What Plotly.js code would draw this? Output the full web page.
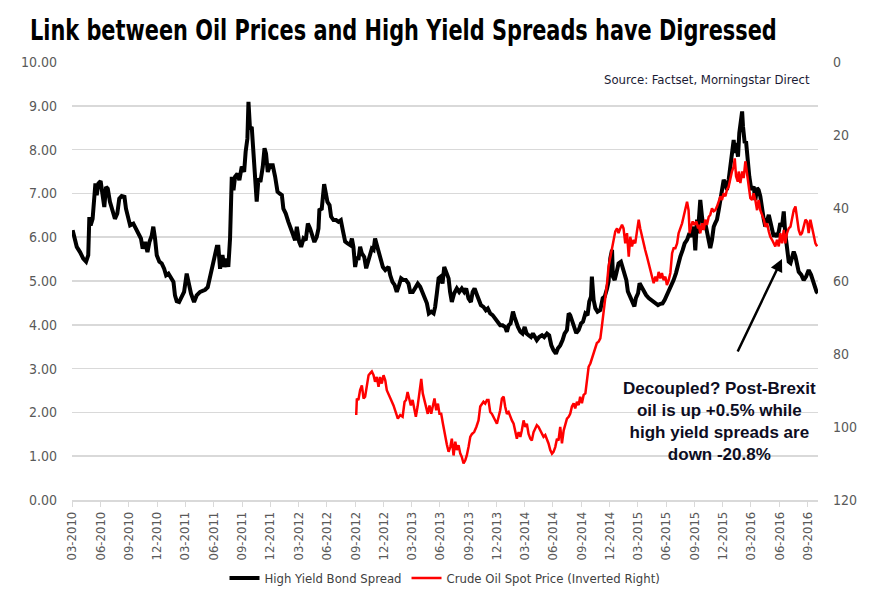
<!DOCTYPE html>
<html>
<head>
<meta charset="utf-8">
<script src="https://cdn.plot.ly/plotly-3.0.1.min.js"></script>
<style>html,body{margin:0;padding:0;background:#fff}#chart{width:882px;height:605px}</style>
</head>
<body>
<div id="chart"></div>
<script>
// Time is in weeks since 2010-03-01 (weekly data)
const hyWeek = [0.3,1.4,2.2,3.7,5.2,6.5,7.5,8.0,8.6,9.5,10.2,10.8,11.4,12.2,13.2,14.0,14.9,15.7,16.5,17.5,18.6,19.8,20.9,21.8,22.9,24.2,24.9,26.0,26.8,28.3,29.5,30.6,31.8,32.6,33.7,34.8,35.7,36.8,37.5,38.3,39.1,40.3,41.4,42.5,43.4,44.5,45.7,46.8,47.5,48.3,49.4,50.6,51.7,52.9,54.0,54.9,56.3,57.5,59.1,
61.4,62.6,63.7,64.8,65.7,66.8,67.5,68.3,69.4,70.3,71.4,72.1,72.9,73.7,74.5,75.2,76.3,77.2,78.3,79.4,80.1,80.9,81.4,82.1,82.9,83.7,84.5,85.2,86.0,86.9,88.0,88.8,89.5,90.3,91.4,92.6,93.7,94.8,95.7,96.8,97.5,98.6,99.8,100.9,101.8,102.9,103.7,104.8,105.7,106.8,107.8,108.8,109.8,110.9,111.8,112.9,113.7,114.1,115.2,116.3,
117.1,117.8,118.8,119.5,120.6,121.8,122.9,124.0,124.9,126.0,127.1,128.3,129.1,129.8,130.6,131.4,132.1,132.9,133.7,134.8,135.7,136.8,137.5,138.3,139.1,139.8,140.6,141.4,142.5,143.4,144.5,145.2,146.0,146.8,147.8,148.8,149.8,150.9,151.8,152.9,154.0,155.2,156.0,157.2,158.3,159.5,160.6,161.7,162.6,163.7,164.6,165.7,166.8,167.5,168.3,169.1,170.1,170.9,171.7,172.6,173.7,174.4,
175.2,176.3,177.5,178.6,179.8,180.9,181.8,182.9,184.0,184.8,185.7,186.8,187.5,188.6,189.8,190.9,191.8,192.9,194.0,195.2,196.4,197.5,198.6,199.8,200.6,201.4,202.3,203.4,204.1,204.9,205.7,206.8,207.8,208.8,209.7,210.6,211.7,212.6,213.4,214.4,215.5,216.8,217.8,219.1,220.1,221.1,222.1,223.2,224.1,225.2,226.3,227.2,228.3,229.1,229.8,230.6,231.4,
232.6,233.7,234.8,235.7,236.8,237.8,238.6,239.4,239.8,240.6,241.4,242.4,243.7,244.8,245.7,246.8,247.5,248.3,249.1,249.5,250.3,251.1,252.1,253.2,254.0,254.8,255.7,256.4,257.5,258.6,259.4,260.1,261.1,261.8,262.6,263.7,264.8,266.0,267.2,268.3,269.4,270.3,271.4,272.4,273.4,274.4,275.5,276.4,277.5,278.6,279.5,280.6,281.7,282.6,283.7,284.8,285.7,286.8,287.5,288.3,288.7,289.8,
290.6,291.4,292.1,292.9,293.7,294.4,295.2,296.0,296.7,297.5,298.3,299.1,299.8,300.6,301.4,302.1,302.9,303.7,304.4,305.2,305.7,306.3,307.2,307.8,308.6,309.1,309.5,310.3,310.9,311.4,311.8,312.4,313.1,313.7,314.4,315.2,316.0,316.7,317.5,318.3,319.1,319.8,320.6,321.4,322.1,322.9,323.7,324.4,325.2,326.0,326.7,327.5,328.3,329.0,329.8,330.6,331.4,332.1,332.9,333.7,334.4,335.2,336.4,337.5,338.6,339.8,340.9,341.7,342.6,343.4,344.0];
const hyVal = [6.16,5.97,5.78,5.66,5.51,5.44,5.59,6.46,6.27,6.42,7.04,7.23,6.96,7.23,7.28,6.96,6.69,7.15,7.11,6.81,6.65,6.42,6.54,6.88,6.94,6.92,6.65,6.46,6.27,6.31,6.20,6.08,5.97,5.74,5.89,5.66,5.89,6.04,6.24,5.97,5.59,5.44,5.40,5.28,5.13,5.17,5.05,4.98,4.67,4.54,4.52,4.67,4.75,5.17,4.90,4.71,4.52,4.67,4.75,
4.80,4.86,5.13,5.32,5.51,5.78,5.78,5.28,5.59,5.32,5.51,5.32,5.97,7.38,7.07,7.38,7.45,7.30,7.61,7.49,7.95,8.25,9.09,8.48,8.52,7.83,7.42,6.81,7.34,7.26,7.61,8.03,7.91,7.49,7.64,7.64,7.38,7.04,7.00,6.96,6.65,6.54,6.35,6.20,6.08,5.93,6.24,5.89,5.78,5.97,5.93,6.31,6.20,6.05,5.89,6.01,6.20,6.62,6.65,7.21,
7.00,6.81,6.73,6.47,6.39,6.39,6.35,6.39,6.16,5.90,5.86,5.82,5.97,5.78,5.32,5.55,5.48,5.78,5.63,5.55,5.29,5.48,5.59,5.74,5.71,5.97,5.82,5.67,5.51,5.32,5.25,5.29,5.32,5.13,4.98,4.91,4.75,4.91,5.06,5.02,5.02,4.94,4.75,4.75,4.83,4.94,4.87,4.75,4.64,4.49,4.26,4.30,4.26,4.41,4.72,5.06,5.10,4.94,5.32,5.17,5.06,4.75,
4.52,4.72,4.83,4.75,4.83,4.75,4.83,4.60,4.52,4.75,4.83,4.68,4.56,4.45,4.41,4.33,4.37,4.26,4.22,4.14,4.07,3.99,3.99,3.95,3.84,3.99,4.03,4.30,4.18,4.03,3.95,3.84,3.80,3.95,3.80,3.76,3.72,3.80,3.72,3.65,3.72,3.76,3.72,3.80,3.76,3.53,3.42,3.34,3.46,3.53,3.65,3.80,3.88,4.26,4.22,4.11,3.95,
3.81,3.88,4.03,4.07,4.26,4.22,4.53,4.64,5.10,4.57,4.38,4.30,4.34,4.61,4.64,4.83,4.99,5.52,5.71,5.10,5.02,5.18,5.40,5.44,5.29,5.10,5.02,4.76,4.64,4.53,4.42,4.61,4.72,4.95,4.87,4.80,4.68,4.61,4.57,4.53,4.49,4.45,4.48,4.49,4.57,4.68,4.80,4.87,5.02,5.18,5.40,5.56,5.71,5.86,5.94,6.09,6.01,6.24,5.70,6.40,6.09,6.85,
6.47,6.17,6.32,6.13,5.94,5.75,5.94,6.24,6.32,6.40,6.62,6.85,7.08,7.31,7.23,7.08,7.31,7.61,7.92,8.22,7.92,8.15,7.84,8.38,8.68,8.87,8.53,8.15,8.19,7.84,7.61,7.39,7.16,7.08,7.16,6.85,7.12,7.08,6.93,6.62,6.40,6.24,6.40,6.51,6.36,6.13,6.01,6.09,6.01,6.13,6.32,6.24,6.59,6.09,5.79,5.44,5.41,5.52,5.67,5.56,5.33,5.21,5.14,5.02,5.10,5.25,5.14,4.99,4.83,4.76,4.72];

const oilWeek = [131.1,131.4,132.1,132.9,133.7,134.5,135.2,136.0,136.8,137.5,138.3,139.1,139.8,140.6,141.4,142.1,142.9,143.7,144.5,145.2,146.3,147.2,148.3,149.4,150.3,151.4,152.5,153.4,154.1,154.8,155.5,156.3,157.1,157.8,158.6,159.4,160.3,161.1,161.8,162.6,163.4,164.1,164.9,165.7,166.4,167.2,168.0,168.8,169.5,170.3,171.1,172.0,172.9,173.7,
174.5,175.2,176.0,176.8,177.5,178.3,179.1,179.8,180.6,181.4,182.1,182.9,183.7,184.5,185.5,186.5,187.5,188.3,189.1,189.8,190.6,191.4,192.1,192.9,193.7,194.5,195.2,196.0,196.8,197.5,198.3,199.1,199.8,200.6,201.4,202.1,202.9,203.7,204.4,205.2,206.0,206.8,207.5,208.3,209.1,209.8,210.6,211.4,212.1,212.9,213.7,214.4,215.2,216.0,216.8,217.5,218.3,219.1,219.8,220.6,221.4,222.1,222.9,223.7,224.4,225.2,226.0,226.8,227.5,228.3,229.1,229.8,230.6,
231.4,232.1,232.9,233.7,234.4,235.2,236.0,236.8,237.5,238.3,239.1,239.8,240.6,241.4,242.1,242.9,243.7,244.4,245.2,246.0,246.8,247.5,248.3,249.1,249.8,250.6,251.4,252.1,252.9,253.7,254.4,255.2,256.0,256.8,257.5,258.3,259.1,259.8,260.6,261.4,262.1,262.9,263.7,264.4,265.2,266.0,266.8,267.5,268.3,269.1,269.8,270.6,271.4,272.1,272.9,273.7,274.4,275.2,276.0,276.8,277.5,278.3,279.1,279.8,280.6,281.4,282.1,282.9,283.7,284.4,284.9,285.5,286.3,287.1,288.0,288.8,
289.1,289.8,290.6,291.4,292.1,292.9,293.7,294.4,295.2,296.0,296.7,297.5,298.3,299.1,299.8,300.6,301.4,302.1,302.9,303.7,304.4,305.2,305.7,306.3,307.1,307.5,308.3,309.1,309.8,310.6,311.4,312.1,312.9,313.7,314.4,315.2,316.0,316.7,317.5,318.3,319.1,319.8,320.6,321.4,322.1,322.9,323.7,324.4,325.2,326.0,326.7,327.5,328.3,329.0,329.8,330.6,331.4,332.1,332.9,333.7,334.4,335.2,336.0,336.7,337.5,338.3,339.1,339.8,340.6,341.4,342.1,342.9,343.7];
const oilVal = [96.7,92.2,92.6,89.9,88.6,92.2,91.7,89.0,85.8,85.3,84.8,85.8,87.6,86.3,89.0,86.3,88.1,85.8,87.2,89.9,91.7,92.6,94.1,95.9,97.7,96.7,97.2,93.1,92.6,90.4,92.2,94.1,92.6,94.4,97.2,94.4,89.9,86.8,90.8,92.6,94.9,96.4,94.1,96.4,94.4,92.2,95.4,93.6,96.4,96.4,99.1,102.6,104.8,106.8,
105.5,103.2,107.8,104.0,106.3,105.0,107.3,108.2,110.0,109.1,107.8,105.5,102.7,101.9,101.4,100.0,98.2,94.4,93.6,93.1,93.6,92.6,92.6,95.9,96.4,97.2,98.2,99.1,97.2,95.4,92.2,91.7,94.4,96.4,95.9,97.2,98.2,99.1,101.4,103.2,101.4,102.7,100.9,98.2,100.0,99.1,101.9,103.2,103.7,101.4,100.4,99.5,100.0,100.9,101.9,102.7,102.2,103.2,104.5,106.3,107.3,106.8,105.5,103.2,103.7,100.0,104.5,100.9,99.5,97.7,97.2,96.4,94.4,
93.5,94.9,93.1,94.0,91.7,93.5,91.2,90.8,87.1,83.5,82.6,81.2,80.3,78.0,77.0,76.6,75.7,72.5,68.9,64.3,60.6,56.0,53.3,50.5,48.2,46.4,45.6,46.9,45.6,44.6,45.6,49.7,46.9,53.3,47.9,50.5,48.7,49.7,46.4,43.2,45.6,47.9,49.2,51.5,53.3,55.1,57.0,58.8,60.6,58.8,60.1,57.5,59.3,57.8,59.8,58.8,61.1,59.8,57.8,52.4,51.0,51.0,49.7,46.9,45.6,44.2,42.4,40.6,38.3,40.6,46.9,45.1,43.7,44.6,43.7,45.6,
44.6,46.9,44.2,46.0,43.2,44.6,42.4,41.9,40.1,40.9,40.6,39.6,37.8,36.8,37.8,36.0,36.8,35.0,34.1,31.8,30.0,28.7,26.4,31.3,32.8,30.0,33.2,30.0,31.8,27.2,31.3,34.1,37.3,37.8,36.0,37.8,40.6,37.8,40.6,41.9,43.2,45.1,44.2,46.4,47.9,48.7,49.7,50.5,48.7,50.5,46.9,49.7,46.0,49.7,46.9,45.6,45.1,43.2,40.6,39.6,42.8,46.0,47.4,46.9,45.1,43.2,43.7,46.9,43.2,45.1,47.4,49.7,50.5];

const seriesNames = ['High Yield Bond Spread', 'Crude Oil Spot Price (Inverted Right)'];
const titleText = 'Link between Oil Prices and High Yield Spreads have Digressed';
const sourceText = 'Source: Factset, Morningstar Direct';
const calloutText = 'Decoupled? Post-Brexit<br>oil is up +0.5% while<br>high yield spreads are<br>down -20.8%';

const START = Date.UTC(2010, 2, 1);
const toDate = w => new Date(START + w * 7 * 86400000).toISOString().slice(0, 19);

const NARROW = '"DejaVu Sans Condensed", "Liberation Sans Narrow", Roboto, sans-serif';

const traces = [
  {x: hyWeek.map(toDate), y: hyVal, type: 'scatter', mode: 'lines', name: seriesNames[0],
   line: {color: '#000000', width: 4}, yaxis: 'y'},
  {x: oilWeek.map(toDate), y: oilVal, type: 'scatter', mode: 'lines', name: seriesNames[1],
   line: {color: '#ff0000', width: 2.5}, yaxis: 'y2'}
];

const layout = {
  width: 882, height: 605,
  margin: {l: 72, r: 64, t: 62, b: 105},
  paper_bgcolor: '#ffffff', plot_bgcolor: '#ffffff',
  font: {family: NARROW, color: '#595959', size: 14},
  title: {text: '<b>' + titleText + '</b>', xref: 'container', yref: 'container', x: 30/882, xanchor: 'left', y: 1 - 30/605, yanchor: 'middle',
          font: {family: NARROW, size: 28, color: '#000000'}},
  showlegend: true,
  legend: {orientation: 'h', x: 0.5, xanchor: 'center', y: -0.178, yanchor: 'middle', font: {size: 13, color: '#404040'}, itemwidth: 30, bgcolor: 'rgba(0,0,0,0)'},
  xaxis: {type: 'date', range: [toDate(0), toDate(344.1)], tick0: '2010-03-01', dtick: 'M3', tickformat: '%m-%Y', tickangle: -90,
          showgrid: false, zeroline: false, showline: true, linecolor: '#d9d9d9', linewidth: 1.5,
          ticks: 'outside', ticklen: 5, tickcolor: '#d9d9d9', tickwidth: 1, tickfont: {size: 13, color: '#595959'}},
  yaxis: {range: [0, 10], dtick: 1, tickformat: '.2f', showgrid: true, gridcolor: '#d9d9d9', gridwidth: 1.5, zeroline: false,
          showline: false, ticks: '', ticklabelstandoff: 14, tickfont: {size: 14, color: '#595959'}},
  yaxis2: {overlaying: 'y', side: 'right', range: [120, 0], dtick: 20, showgrid: false, zeroline: false, showline: false,
           ticks: '', ticklabelstandoff: 14, tickfont: {size: 14, color: '#595959'}},
  annotations: [
    {text: sourceText, xref: 'paper', yref: 'paper', x: 0.992, y: 0.959, xanchor: 'right', yanchor: 'middle', showarrow: false,
     font: {size: 13, color: '#1a1a33'}},
    {text: '<b>' + calloutText + '</b>', xref: 'paper', yref: 'paper', x: 0.868, y: 0.179, xanchor: 'center', yanchor: 'middle', showarrow: false,
     align: 'center', font: {family: '"Liberation Sans", Arial, sans-serif', size: 17, color: '#0d0d1f'}},
    {text: '', xref: 'paper', yref: 'paper', x: 0.9517, y: 0.5502, axref: 'pixel', ayref: 'pixel', ax: -45, ay: 94,
     showarrow: true, arrowhead: 2, arrowsize: 1, arrowwidth: 2.5, arrowcolor: '#000000'}
  ]
};

Plotly.newPlot('chart', traces, layout, {displayModeBar: false, staticPlot: true}).then(gd => {
  // Fit the title to the reference's width (the original uses a condensed face)
  const t = gd.querySelector('.gtitle');
  if (t) {
    const w = t.getBBox().width;
    const s = Math.min(1, 747 / w);
    const x0 = 30;
    t.setAttribute('transform', `translate(${x0},0) scale(${s},1) translate(${-x0},0)`);
  }
});
</script>
</body>
</html>
